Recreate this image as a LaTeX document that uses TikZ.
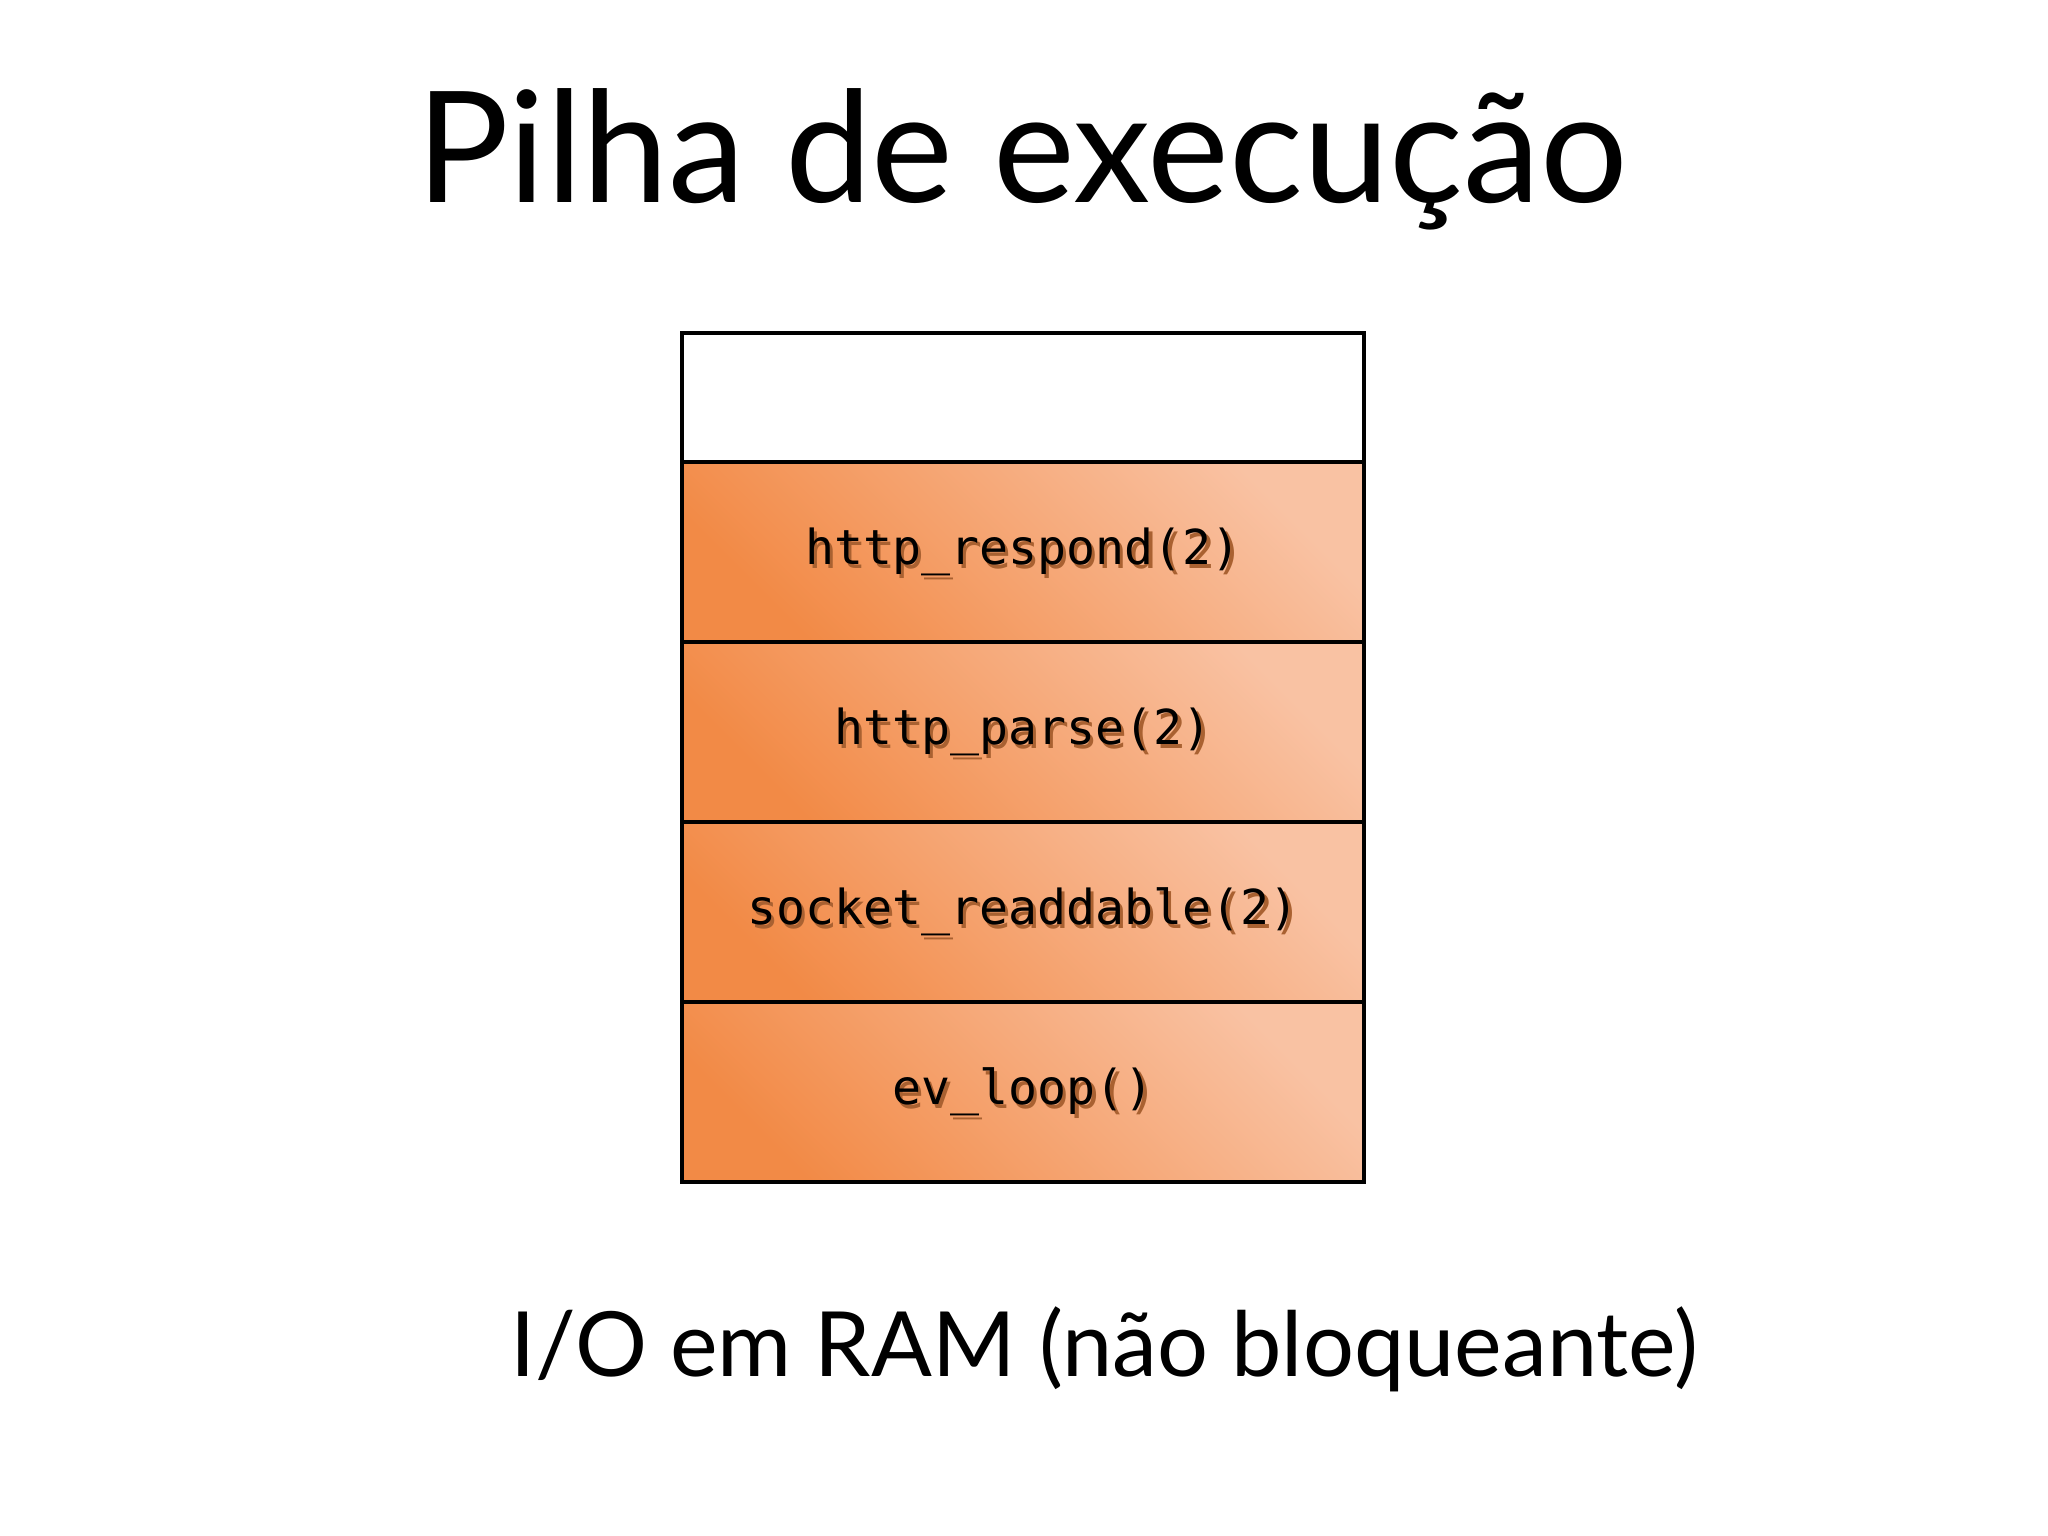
\documentclass[tikz,border=0pt]{standalone}
\usepackage{fontspec}
\setmainfont{Lato}
\newfontfamily\stackmono{DejaVu Sans Mono}
\usepackage{tikz}
\usetikzlibrary{positioning}
\usetikzlibrary{matrix}

\definecolor{stackdark}{RGB}{242,138,70}
\definecolor{stacklight}{RGB}{249,194,163}
\colorlet{callshade}{stackdark!70!black}

% text with a soft drop shadow
\newcommand{\callname}[1]{\makebox[0pt][l]{\hspace{0.035cm}\raisebox{-0.035cm}[0pt][0pt]{\textcolor{callshade}{#1}}}#1}

\tikzset{
  frame/.style={draw, line width=1.1pt, outer sep=0pt, inner sep=0pt,
    minimum width=6.82cm, minimum height=1.8cm,
    top color=stacklight, bottom color=stackdark, shading angle=-45,
    font=\stackmono\fontsize{13.7}{16}\selectfont},
  emptyframe/.style={minimum height=1.29cm, top color=white, bottom color=white},
}

\begin{document}
\begin{tikzpicture}[x=0.01cm,y=-0.01cm]
\fill[white] (0,0) rectangle (2048,1536);
\useasboundingbox (0,0) rectangle (2048,1536);
\node (title) [anchor=base, font=\fontsize{44}{52}\selectfont] at (1022,202) {Pilha de execução};
            \matrix (stack) [%
            matrix of nodes,
            nodes in empty cells,
            nodes={frame},
            row sep=-1.1pt,
            ] at (1023,757.5)
        { |[emptyframe]| \\
\callname{http\_respond(2)} \\
\callname{http\_parse(2)} \\
\callname{socket\_readdable(2)} \\
\callname{ev\_loop()} \\
};
\node (note) [anchor=base, font=\fontsize{25.6}{30}\selectfont] at (1104,1376) {I/O em RAM (não bloqueante)};
\end{tikzpicture}
\end{document}
